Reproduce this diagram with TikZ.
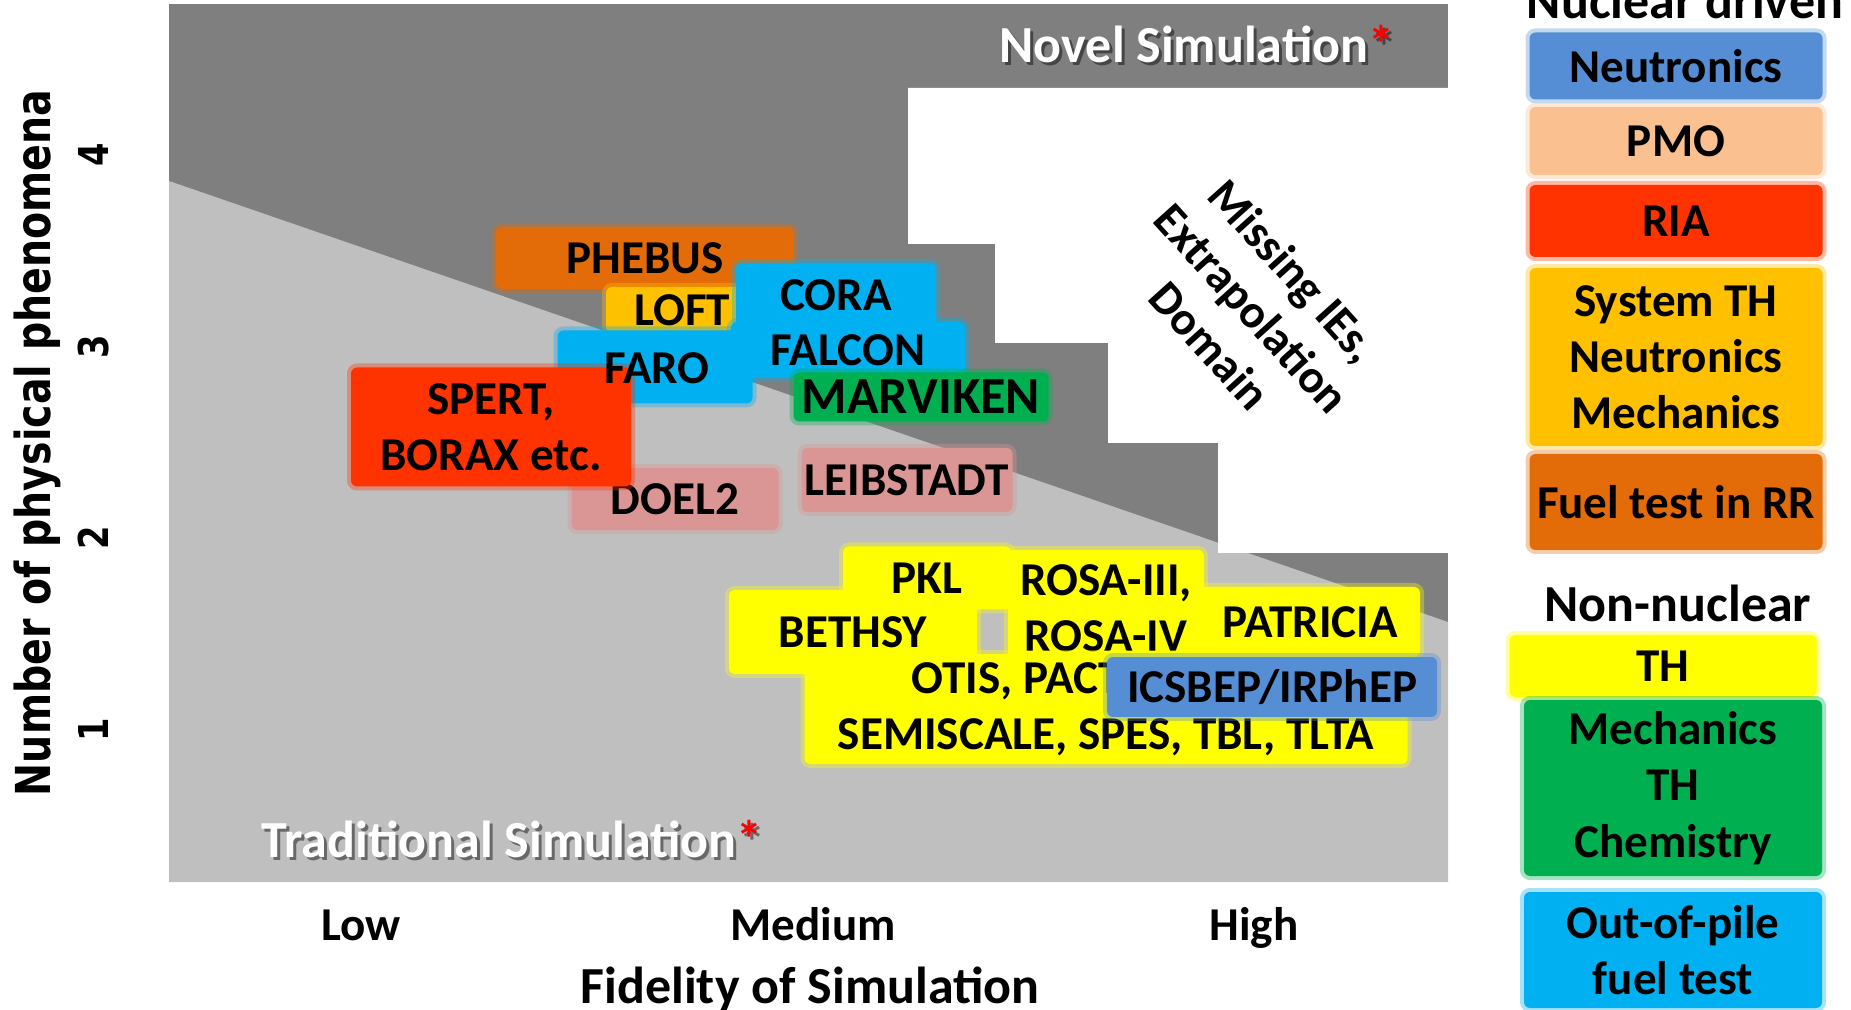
\documentclass[tikz,border=0pt]{standalone}
\usepackage{fontspec}
\setmainfont{Carlito}
\newfontfamily\axisfont[FakeStretch=0.82]{DejaVu Sans}
\usetikzlibrary{calc}

\definecolor{darkarea}{HTML}{7F7F7F}
\definecolor{lightarea}{HTML}{BFBFBF}
\definecolor{neutron}{HTML}{558ED5}
\definecolor{pmocol}{HTML}{FAC090}
\definecolor{riacol}{HTML}{FF3300}
\definecolor{systh}{HTML}{FFC000}
\definecolor{fuelrr}{HTML}{E36C09}
\definecolor{thyellow}{HTML}{FFFF00}
\definecolor{mechcol}{HTML}{00B050}
\definecolor{outpile}{HTML}{00B0F0}
\definecolor{plant}{HTML}{D99694}

\begin{document}
\begin{tikzpicture}[x=0.1mm,y=-0.1mm,
  box/.style={rectangle,rounded corners=0.6mm,inner sep=0pt,align=center,fill=#1,draw=#1,draw opacity=.35,line width=0.8mm,font=\fontsize{13.4}{16}\selectfont\bfseries},
  plain/.style={font=\fontsize{13.4}{16}\selectfont\bfseries},
  bigtext/.style={font=\fontsize{14.8}{17}\selectfont\bfseries},
  tick/.style={rotate=90,anchor=base,font=\axisfont\fontsize{11.7}{14}\selectfont\bfseries}]

\useasboundingbox (0,0) rectangle (1851,1010);

\fill[darkarea] (169,4) rectangle (1448,882);
\fill[lightarea] (169,181) -- (1448,622) -- (1448,882) -- (169,882) -- cycle;
\fill[white] (908,88) -- (1448,88) -- (1448,553) -- (1218,553) -- (1218,443) -- (1108,443) -- (1108,343) -- (995,343) -- (995,244) -- (908,244) -- cycle;

\draw node [anchor=base,bigtext,black,opacity=.45] (novelshadow) at (1200,66) {Novel Simulation*};
\draw node [anchor=base,bigtext,white] (novel) at (1197,63) {Novel Simulation\textcolor{red}{*}};
\draw node [anchor=base,bigtext,black,opacity=.45] (tradshadow) at (515,860) {Traditional Simulation*};
\draw node [anchor=base,bigtext,white] (trad) at (512,857) {Traditional Simulation\textcolor{red}{*}};

\draw node [box=fuelrr,minimum width=29.8mm,minimum height=6.2mm] (phebus) at (645,258) {PHEBUS};
\draw node [box=systh,minimum width=15.2mm,minimum height=4.6mm] (loft) at (682,310) {LOFT};
\draw node [box=outpile,minimum width=20mm,minimum height=6.4mm] (cora) at (836,295) {CORA};
\draw node [box=outpile,minimum width=23.4mm,minimum height=5.6mm] (falcon) at (848,350) {FALCON};
\draw node [box=outpile,minimum width=19.5mm,minimum height=7.3mm] (faro) at (655,367) {};
\draw node [box=mechcol,bigtext,minimum width=25.5mm,minimum height=4.9mm] (marviken) at (921,397) {MARVIKEN};
\draw node [box=plant,minimum width=20.7mm,minimum height=6.2mm] (doel) at (675,499) {DOEL2};
\draw node [box=riacol,minimum width=28mm,minimum height=11.9mm] (spert) at (491,427) {SPERT,\\BORAX etc.};
\draw node [plain] (farolabel) at ($(faro)+(2,1)$) {FARO};
\draw node [box=plant,minimum width=21.1mm,minimum height=6.4mm] (leib) at (907,480) {LEIBSTADT};

\draw node [box=thyellow,minimum width=24.8mm,minimum height=8.4mm] (bethsy) at (853,632) {BETHSY};
\draw node [box=thyellow,minimum width=16.8mm,minimum height=6.3mm] (pkl) at (927,578) {PKL};
\draw node [box=thyellow,minimum width=19.6mm,minimum height=11.6mm] (rosa) at (1106,608) {ROSA-III,\\ROSA-IV};
\draw node [box=thyellow,minimum width=22mm,minimum height=7mm] (patricia) at (1310,622) {PATRICIA};
\draw node [box=thyellow,minimum width=60.3mm,minimum height=11mm] (otis) at (1106,709) {OTIS, PACTEL, PIPER\\SEMISCALE, SPES, TBL, TLTA};
\draw node [box=neutron,minimum width=33mm,minimum height=6mm] (icsbep) at (1272,687) {ICSBEP/IRPhEP};

\draw node [rotate=-48,plain,align=center] (missing) at (1252,308) {Missing IEs,\\Extrapolation\\Domain};

\draw node [anchor=base,bigtext] (nuclear) at (1685,19) {Nuclear driven};
\draw node [box=neutron,minimum width=29.3mm,minimum height=6.7mm] (neutronics) at (1676,66) {Neutronics};
\draw node [box=pmocol,minimum width=29.3mm,minimum height=6.8mm] (pmo) at (1676,141) {PMO};
\draw node [box=riacol,minimum width=29.3mm,minimum height=7.2mm] (ria) at (1676,221) {RIA};
\draw node [box=systh,minimum width=29.3mm,minimum height=17.8mm] (system) at (1676,357) {System TH\\Neutronics\\Mechanics};
\draw node [box=fuelrr,minimum width=29.3mm,minimum height=9.6mm] (fueltest) at (1676,502) {Fuel test in RR};
\draw node [anchor=base,bigtext] (nonnuclear) at (1678,622) {Non-nuclear};
\draw node [box=thyellow,minimum width=30.7mm,minimum height=6.2mm] (th) at (1663,666) {TH};
\draw node [box=mechcol,minimum width=29.8mm,minimum height=17.6mm] (mechanics) at (1673,788) {Mechanics\\TH\\Chemistry};
\draw node [box=outpile,minimum width=29.8mm,minimum height=11.6mm] (outofpile) at (1673,950) {Out-of-pile\\fuel test};

\draw node [anchor=base,plain] (low) at (361,940) {Low};
\draw node [anchor=base,plain] (medium) at (813,940) {Medium};
\draw node [anchor=base,plain] (high) at (1254,940) {High};
\draw node [anchor=base,bigtext] (fidelity) at (810,1003) {Fidelity of Simulation};

\draw node [rotate=90,anchor=base,font=\axisfont\fontsize{13.7}{16}\selectfont\bfseries] (ylabel) at (50,443) {Number of physical phenomena};
\foreach \n/\y in {1/730,2/538,3/347,4/155}
  \draw node [tick] (tick\n) at (108,\y) {\n};

\end{tikzpicture}
\end{document}
